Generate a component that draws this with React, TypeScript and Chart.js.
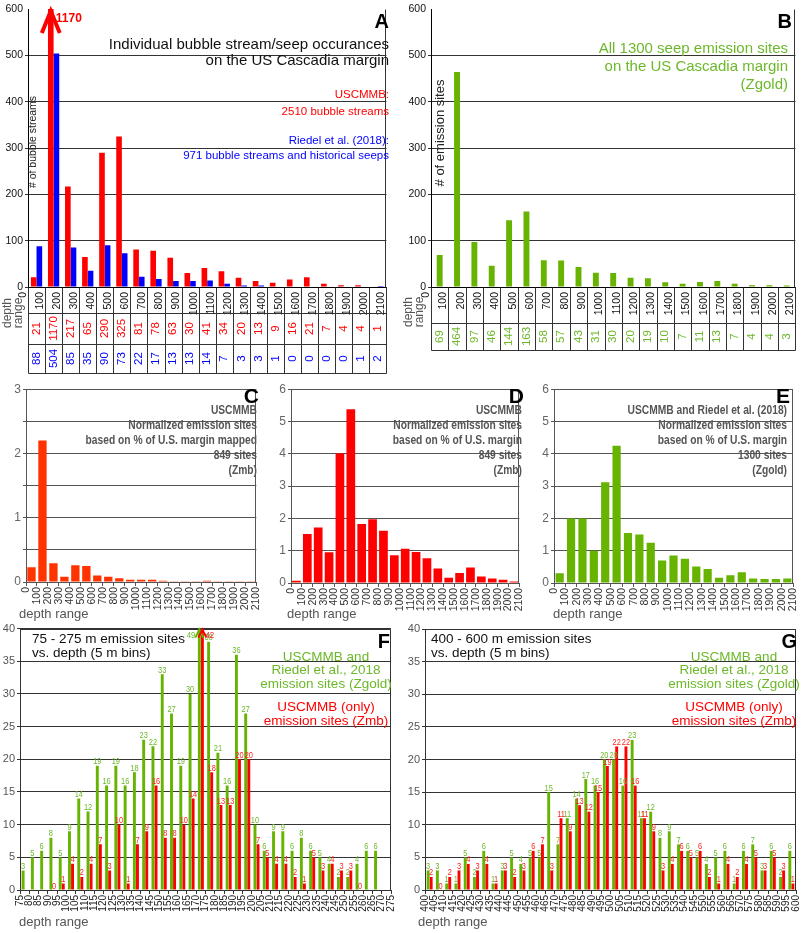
import { useEffect, useRef } from 'react';
import { Chart, registerables } from 'chart.js';
Chart.register(...registerables);

// ---- data (A, B: 100 m depth bins, 0-2100 m) ----
const binsAB = [0, 100, 200, 300, 400, 500, 600, 700, 800, 900, 1000, 1100, 1200, 1300, 1400, 1500, 1600, 1700, 1800, 1900, 2000];
const uscmmbCounts = [21, 1170, 217, 65, 290, 325, 81, 78, 63, 30, 41, 34, 20, 13, 9, 16, 21, 7, 4, 4, 1];
const riedelCounts = [88, 504, 85, 35, 90, 73, 22, 17, 13, 13, 14, 7, 3, 3, 1, 0, 0, 0, 0, 1, 2];
const zgoldCounts = [69, 464, 97, 46, 144, 163, 58, 57, 43, 31, 30, 20, 19, 10, 7, 11, 13, 7, 4, 4, 3];

// ---- C, D, E: normalized emission sites ----
const normZmbMapped = [0.23, 2.2, 0.29, 0.08, 0.26, 0.25, 0.1, 0.08, 0.06, 0.035, 0.035, 0.035, 0.02, 0.01, 0.01, 0.01, 0.02, 0.01, 0.01, 0.01, 0.01];
const normZmb = [0.07, 1.52, 1.72, 0.95, 4.02, 5.38, 1.83, 1.97, 1.62, 0.86, 1.06, 0.96, 0.77, 0.45, 0.16, 0.31, 0.48, 0.2, 0.14, 0.1, 0.05];
const normZgold = [0.3, 2.0, 2.0, 1.0, 3.12, 4.25, 1.55, 1.5, 1.25, 0.7, 0.85, 0.75, 0.51, 0.43, 0.16, 0.24, 0.33, 0.14, 0.12, 0.12, 0.14];

// ---- F: 75-275 m, 5 m bins ----
const binsF = [75, 80, 85, 90, 95, 100, 105, 110, 115, 120, 125, 130, 135, 140, 145, 150, 155, 160, 165, 170, 175, 180, 185, 190, 195, 200, 205, 210, 215, 220, 225, 230, 235, 240, 245, 250, 255, 260, 265, 270];
const zgoldF = [3, 5, 6, 8, 5, 9, 14, 12, 19, 16, 19, 16, 18, 23, 22, 33, 27, 19, 30, 49, 38, 21, 16, 36, 27, 10, 6, 9, 9, 6, 8, 6, 5, 4, 2, 2, 4, 6, 6, null];
const zmbF = [null, null, null, 0, 1, 4, 2, 4, 7, 3, 10, 1, 7, 9, 16, 8, 8, 10, 14, 42, 18, 13, 13, 20, 20, 7, 5, 4, 4, 2, 1, 5, 3, 4, 3, 3, 0, null, null, null];

// ---- G: 400-600 m, 5 m bins ----
const binsG = [400, 405, 410, 415, 420, 425, 430, 435, 440, 445, 450, 455, 460, 465, 470, 475, 480, 485, 490, 495, 500, 505, 510, 515, 520, 525, 530, 535, 540, 545, 550, 555, 560, 565, 570, 575, 580, 585, 590, 595];
const zgoldG = [3, 3, 1, 1, 5, 2, 6, 1, 3, 5, 4, 5, 5, 15, 7, 11, 14, 17, 16, 20, 20, 16, 23, 11, 12, 8, 9, 7, 6, 5, 4, 5, 6, 1, 6, 7, 3, 6, 2, 6];
const zmbG = [2, 0, 2, 3, 4, 3, 4, 1, 3, 2, 3, 6, 7, 3, 11, 9, 13, 12, 15, 19, 22, 22, 16, 11, 9, 3, 4, 6, 5, 6, 2, 1, 4, 2, 4, 5, 3, 5, 3, 1];

const SANS = '"Liberation Sans", Arial, sans-serif';
const RED = '#ff0000';
const BLUE = '#0000ff';
const GREEN = '#66b300';
const GREEN_TXT = '#6cb82a';
const GRAY = '#555';
const NARROW_X = 0.82; // horizontal squeeze used for the condensed labels

type Txt = { t: string; x: number; y: number; font: string; color: string; align?: CanvasTextAlign; rot?: boolean; sx?: number };
type Series = { values: (number | null)[]; color: string; label: string; labelColor?: string };
type PanelCfg = {
  box: number[]; // left, top, width, height (page px)
  area: number[]; // chart area left, top, right, bottom (page px)
  bins: number[];
  binW: number;
  series: Series[];
  yMax: number;
  yStep: number;
  intLabels?: boolean;
  catPct: number;
  barPct: number;
  frame: 'box' | 'open';
  gridColor: string;
  yTick: { size: number; color: string };
  xTick: { size: number; color: string; offset: number };
  tickMarks: boolean;
  hideTopGrid?: boolean;
  texts: Txt[];
  table?: { rows: { values: number[]; color: string }[]; ys: number[] };
  barLabels?: boolean;
  arrow?: { hw: number; hh: number; lw: number; font: string; dy: number; dx: number[] };
};

function drawText(ctx: CanvasRenderingContext2D, tx: Txt, ox: number, oy: number) {
  ctx.save();
  ctx.font = tx.font;
  ctx.fillStyle = tx.color;
  ctx.textAlign = tx.align || 'left';
  ctx.translate(tx.x - ox, tx.y - oy);
  if (tx.rot) {
    ctx.rotate(-Math.PI / 2);
    ctx.textBaseline = 'middle';
  } else {
    ctx.textBaseline = 'alphabetic';
  }
  if (tx.sx) ctx.scale(tx.sx, 1);
  ctx.fillText(tx.t, 0, 0);
  ctx.restore();
}

function makeDecor(cfg: PanelCfg) {
  return {
    id: 'decor',
    afterDraw(chart: any) {
      const ctx: CanvasRenderingContext2D = chart.ctx;
      const { left, right, top, bottom } = chart.chartArea;
      const [bl, bt] = cfg.box;
      const xs = chart.scales.x;
      ctx.save();
      ctx.lineWidth = 1;
      ctx.strokeStyle = cfg.gridColor;
      const L = Math.round(left) + 0.5;
      const R = Math.round(right) - 0.5;
      const T = Math.round(top) + 0.5;
      const B = Math.round(bottom) + 0.5;
      ctx.beginPath();
      if (cfg.frame === 'box') {
        ctx.moveTo(L, T); ctx.lineTo(R, T); ctx.lineTo(R, B);
      } else {
        ctx.moveTo(R, T); ctx.lineTo(R, B);
      }
      ctx.stroke();

      // table under the axis
      if (cfg.table) {
        const ys = cfg.table.ys.map((y) => y - bt);
        const yEnd = ys[ys.length - 1];
        const edges = [...cfg.bins, cfg.bins[cfg.bins.length - 1] + cfg.binW];
        ctx.strokeStyle = '#333';
        ctx.beginPath();
        edges.forEach((e) => {
          const px = Math.round(xs.getPixelForValue(e)) + 0.5;
          ctx.moveTo(px, B);
          ctx.lineTo(px, yEnd + 0.5);
        });
        ys.forEach((y) => {
          ctx.moveTo(L, Math.round(y) + 0.5);
          ctx.lineTo(Math.round(right) + 0.5, Math.round(y) + 0.5);
        });
        ctx.stroke();
        cfg.table.rows.forEach((row, ri) => {
          const yc = (ys[ri] + ys[ri + 1]) / 2;
          row.values.forEach((v, i) => {
            const xc = (xs.getPixelForValue(cfg.bins[i]) + xs.getPixelForValue(cfg.bins[i] + cfg.binW)) / 2;
            ctx.save();
            ctx.translate(xc, yc);
            ctx.rotate(-Math.PI / 2);
            ctx.font = `11.5px ${SANS}`;
            ctx.fillStyle = row.color;
            ctx.textAlign = 'center';
            ctx.textBaseline = 'middle';
            ctx.fillText(String(v), 0, 0);
            ctx.restore();
          });
        });
      }

      // value labels and arrows for clipped bars
      chart.data.datasets.forEach((ds: any, di: number) => {
        const meta = chart.getDatasetMeta(di);
        const s = cfg.series[di];
        meta.data.forEach((el: any, j: number) => {
          const v = ds.data[j].y;
          if (v === null || v === undefined) return;
          if (v > cfg.yMax && cfg.arrow) {
            const a = cfg.arrow;
            ctx.strokeStyle = s.color;
            ctx.lineWidth = a.lw;
            ctx.lineJoin = 'miter';
            ctx.beginPath();
            ctx.moveTo(el.x - a.hw, top + a.hh);
            ctx.lineTo(el.x, top + a.lw / 2);
            ctx.lineTo(el.x + a.hw, top + a.hh);
            ctx.stroke();
            drawText(ctx, {
              t: String(v), x: el.x + a.dx[di], y: top + a.dy, font: a.font,
              color: s.labelColor || s.color, align: a.dx[di] < 0 ? 'right' : 'left',
              sx: cfg.barLabels ? NARROW_X : undefined,
            }, 0, 0);
          } else if (cfg.barLabels) {
            drawText(ctx, {
              t: String(v), x: el.x, y: el.y - 1.5, font: `9.5px ${SANS}`,
              color: s.labelColor || s.color, align: 'center', sx: 0.78,
            }, 0, 0);
          }
        });
      });

      cfg.texts.forEach((tx) => drawText(ctx, tx, bl, bt));
      ctx.restore();
    },
  };
}

function buildChart(canvas: HTMLCanvasElement, cfg: PanelCfg) {
  const [bl, bt, bw, bh] = cfg.box;
  const [al, at, ar, ab] = cfg.area;
  const xMax = cfg.bins[cfg.bins.length - 1] + cfg.binW;
  return new Chart(canvas, {
    type: 'bar',
    data: {
      datasets: cfg.series.map((s) => ({
        label: s.label,
        data: cfg.bins.map((b, i) => ({ x: b + cfg.binW / 2, y: s.values[i] })),
        backgroundColor: s.color,
        borderWidth: 0,
        categoryPercentage: cfg.catPct,
        barPercentage: cfg.barPct,
      })),
    } as any,
    options: {
      animation: false,
      responsive: false,
      devicePixelRatio: 1,
      layout: { padding: { left: 0, top: at - bt, right: bl + bw - ar, bottom: 0 } },
      plugins: { legend: { display: false }, tooltip: { enabled: false } },
      scales: {
        x: {
          type: 'linear',
          min: cfg.bins[0],
          max: xMax,
          offset: false,
          grid: {
            display: cfg.tickMarks,
            offset: false,
            drawOnChartArea: false,
            drawTicks: true,
            tickLength: 4,
            color: cfg.gridColor,
          },
          border: { display: true, color: cfg.frame === 'box' ? cfg.gridColor : '#000' },
          ticks: {
            stepSize: cfg.binW,
            autoSkip: false,
            maxRotation: 90,
            minRotation: 90,
            padding: 1,
            labelOffset: cfg.xTick.offset,
            font: { family: SANS, size: cfg.xTick.size },
            color: cfg.xTick.color,
            callback: (v: any) => String(v),
          },
          afterFit: (s: any) => { s.height = bt + bh - ab; },
        },
        y: {
          min: 0,
          max: cfg.yMax,
          grid: {
            color: (c: any) => (cfg.hideTopGrid && c.tick && c.tick.value === cfg.yMax ? 'rgba(0,0,0,0)' : cfg.gridColor),
            drawTicks: true,
            tickLength: 3,
          },
          border: { display: true, color: cfg.frame === 'box' ? cfg.gridColor : '#000' },
          ticks: {
            stepSize: cfg.yStep,
            padding: 2,
            font: { family: SANS, size: cfg.yTick.size },
            color: cfg.yTick.color,
            callback: (v: any) => (cfg.intLabels && !Number.isInteger(v) ? '' : String(v)),
          },
          afterFit: (s: any) => { s.width = al - bl; },
        },
      },
    } as any,
    plugins: [makeDecor(cfg)],
  });
}

const T = (t: string, x: number, y: number, font: string, color: string, align: CanvasTextAlign = 'left', rot = false, sx?: number): Txt => ({ t, x, y, font, color, align, rot, sx });

const panelA: PanelCfg = {
  box: [0, 0, 400, 378],
  area: [28, 9, 396, 287],
  bins: binsAB,
  binW: 100,
  series: [
    { values: uscmmbCounts, color: RED, label: 'USCMMB' },
    { values: riedelCounts, color: BLUE, label: 'Riedel et al. (2018)' },
  ],
  yMax: 600,
  yStep: 100,
  catPct: 0.66,
  barPct: 1,
  frame: 'open',
  gridColor: '#333',
  yTick: { size: 10.5, color: '#111' },
  xTick: { size: 10.5, color: '#111', offset: -5 },
  tickMarks: false,
  hideTopGrid: true,
  texts: [
    T('A', 389, 28, `bold 20px ${SANS}`, '#000', 'right'),
    T('Individual bubble stream/seep occurances', 389, 49, `15px ${SANS}`, '#111', 'right'),
    T('on the US Cascadia margin', 389, 65, `15px ${SANS}`, '#111', 'right'),
    T('USCMMB:', 389, 98, `11.5px ${SANS}`, RED, 'right'),
    T('2510 bubble streams', 389, 115, `11.5px ${SANS}`, RED, 'right'),
    T('Riedel et al. (2018):', 389, 144, `11.5px ${SANS}`, BLUE, 'right'),
    T('971 bubble streams and historical seeps', 389, 159, `11.5px ${SANS}`, BLUE, 'right'),
    T('# of bubble streams', 33, 142, `10.5px ${SANS}`, '#222', 'center', true),
    T('depth', 8, 313, `12px ${SANS}`, GRAY, 'center', true),
    T('range', 19, 313, `12px ${SANS}`, GRAY, 'center', true),
  ],
  table: {
    rows: [
      { values: uscmmbCounts, color: RED },
      { values: riedelCounts, color: BLUE },
    ],
    ys: [313, 344, 373],
  },
  arrow: { hw: 9, hh: 24, lw: 4, font: `bold 12px ${SANS}`, dy: 13, dx: [5, 5] },
};

const panelB: PanelCfg = {
  box: [400, 0, 409, 378],
  area: [431, 9, 798, 287],
  bins: binsAB,
  binW: 100,
  series: [{ values: zgoldCounts, color: GREEN, label: 'Zgold' }],
  yMax: 600,
  yStep: 100,
  catPct: 0.34,
  barPct: 1,
  frame: 'open',
  gridColor: '#333',
  yTick: { size: 10.5, color: '#111' },
  xTick: { size: 10.5, color: '#111', offset: -5 },
  tickMarks: false,
  hideTopGrid: true,
  texts: [
    T('B', 792, 28, `bold 20px ${SANS}`, '#000', 'right'),
    T('All 1300 seep emission sites', 788, 53, `15px ${SANS}`, GREEN_TXT, 'right'),
    T('on the US Cascadia margin', 788, 71, `15px ${SANS}`, GREEN_TXT, 'right'),
    T('(Zgold)', 788, 89, `15px ${SANS}`, GREEN_TXT, 'right'),
    T('# of emission sites', 440, 133, `13px ${SANS}`, '#222', 'center', true),
    T('depth', 409, 312, `12px ${SANS}`, GRAY, 'center', true),
    T('range', 420, 312, `12px ${SANS}`, GRAY, 'center', true),
  ],
  table: { rows: [{ values: zgoldCounts, color: GREEN_TXT }], ys: [323, 350] },
};

const normTexts = (right: number, lines: string[], letter: string, letterRight: number, labelX: number): Txt[] => [
  T(letter, letterRight, 403, `bold 21px ${SANS}`, '#000', 'right'),
  ...lines.map((l, i) => T(l, right, 414 + i * 15, `bold 12.5px ${SANS}`, GRAY, 'right', false, NARROW_X)),
  T('depth range', labelX, 618, `13px ${SANS}`, GRAY),
];

const smallCommon = {
  bins: binsAB,
  binW: 100,
  frame: 'box' as const,
  gridColor: GRAY,
  yTick: { size: 12, color: '#666' },
  xTick: { size: 10.5, color: '#333', offset: 0 },
  tickMarks: true,
  barPct: 1,
};

const panelC: PanelCfg = {
  ...smallCommon,
  box: [0, 380, 270, 245],
  area: [26, 385, 264, 582],
  series: [{ values: normZmbMapped, color: '#ff3300', label: 'Zmb (mapped)' }],
  yMax: 3,
  yStep: 0.5,
  intLabels: true,
  catPct: 0.76,
  texts: normTexts(257, ['USCMMB', 'Normalized emission sites', 'based on % of U.S. margin mapped', '849 sites', '(Zmb)'], 'C', 259, 19),
};

const panelD: PanelCfg = {
  ...smallCommon,
  box: [268, 380, 265, 245],
  area: [291, 385, 525, 583],
  series: [{ values: normZmb, color: RED, label: 'Zmb' }],
  yMax: 6,
  yStep: 1,
  catPct: 0.8,
  texts: normTexts(522, ['USCMMB', 'Normalized emission sites', 'based on % of U.S. margin', '849 sites', '(Zmb)'], 'D', 524, 287),
};

const panelE: PanelCfg = {
  ...smallCommon,
  box: [532, 380, 277, 245],
  area: [554, 387, 793, 583],
  series: [{ values: normZgold, color: GREEN, label: 'Zgold' }],
  yMax: 6,
  yStep: 1,
  catPct: 0.72,
  texts: normTexts(787, ['USCMMB and Riedel et al. (2018)', 'Normalized emission sites', 'based on % of U.S. margin', '1300 sites', '(Zgold)'], 'E', 790, 553),
};

const depthTexts = (lx: number, r1: string, cx: number, letter: string, letterRight: number): Txt[] => [
  T(r1, lx, 643, `13.5px ${SANS}`, '#111'),
  T('vs. depth (5 m bins)', lx, 657, `13.5px ${SANS}`, '#111'),
  T(letter, letterRight, 648, `bold 20px ${SANS}`, '#000', 'right'),
  T('USCMMB and', cx, 661, `13.5px ${SANS}`, GREEN_TXT, 'center'),
  T('Riedel et al., 2018', cx, 674, `13.5px ${SANS}`, GREEN_TXT, 'center'),
  T('emission sites (Zgold)', cx, 688, `13.5px ${SANS}`, GREEN_TXT, 'center'),
  T('USCMMB (only)', cx, 711, `13.5px ${SANS}`, RED, 'center'),
  T('emission sites (Zmb)', cx, 725, `13.5px ${SANS}`, RED, 'center'),
  T('depth range', lx - 13, 926, `13px ${SANS}`, GRAY),
];

const fineCommon = {
  binW: 5,
  yMax: 40,
  yStep: 5,
  catPct: 0.66,
  barPct: 0.95,
  frame: 'box' as const,
  gridColor: '#333',
  yTick: { size: 11, color: '#555' },
  xTick: { size: 10, color: '#222', offset: 0 },
  tickMarks: true,
  barLabels: true,
};

const panelF: PanelCfg = {
  ...fineCommon,
  box: [0, 620, 404, 313],
  area: [20, 628, 398, 890],
  bins: binsF,
  series: [
    { values: zgoldF, color: GREEN, label: 'Zgold', labelColor: GREEN_TXT },
    { values: zmbF, color: RED, label: 'Zmb', labelColor: '#ff2020' },
  ],
  texts: depthTexts(32, '75 - 275 m emission sites', 326, 'F', 390),
  arrow: { hw: 4, hh: 9, lw: 2, font: `9.5px ${SANS}`, dy: 9, dx: [-4, 3] },
};

const panelG: PanelCfg = {
  ...fineCommon,
  box: [404, 620, 405, 313],
  area: [425, 629, 803, 890],
  bins: binsG,
  series: [
    { values: zgoldG, color: GREEN, label: 'Zgold', labelColor: GREEN_TXT },
    { values: zmbG, color: RED, label: 'Zmb', labelColor: '#ff2020' },
  ],
  texts: depthTexts(431, '400 - 600 m emission sites', 734, 'G', 797),
};

const panels = [panelA, panelB, panelC, panelD, panelE, panelF, panelG];

function PanelChart({ cfg }: { cfg: PanelCfg }) {
  const ref = useRef<HTMLCanvasElement>(null);
  useEffect(() => {
    const chart = buildChart(ref.current!, cfg);
    return () => chart.destroy();
  }, [cfg]);
  const [l, t, w, h] = cfg.box;
  return (
    <canvas
      ref={ref}
      width={w}
      height={h}
      style={{ position: 'absolute', left: l, top: t, width: w, height: h }}
    />
  );
}

export default function App() {
  return (
    <div style={{ position: 'absolute', left: 0, top: 0, width: 809, height: 933, background: '#fff', overflow: 'hidden' }}>
      {panels.map((p, i) => (
        <PanelChart key={i} cfg={p} />
      ))}
    </div>
  );
}
